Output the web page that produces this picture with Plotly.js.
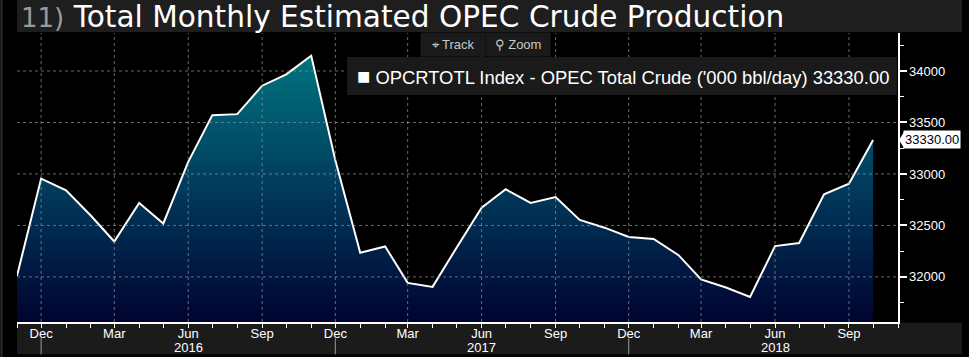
<!DOCTYPE html>
<html>
<head>
<meta charset="utf-8">
<script src="https://cdn.plot.ly/plotly-3.0.1.min.js"></script>
<style>
  html, body { margin: 0; padding: 0; background: #000; }
  #chart { width: 969px; height: 357px; }
</style>
</head>
<body>
<div id="chart"></div>
<script>
// ---- data ----
const months = [
  '2015-11-01','2015-12-01',
  '2016-01-01','2016-02-01','2016-03-01','2016-04-01','2016-05-01','2016-06-01',
  '2016-07-01','2016-08-01','2016-09-01','2016-10-01','2016-11-01','2016-12-01',
  '2017-01-01','2017-02-01','2017-03-01','2017-04-01','2017-05-01','2017-06-01',
  '2017-07-01','2017-08-01','2017-09-01','2017-10-01','2017-11-01','2017-12-01',
  '2018-01-01','2018-02-01','2018-03-01','2018-04-01','2018-05-01','2018-06-01',
  '2018-07-01','2018-08-01','2018-09-01','2018-10-01'
];
const production = [
  32010, 32955,
  32841, 32594, 32344, 32718, 32519, 33117,
  33571, 33581, 33857, 33968, 34149, 33133,
  32234, 32296, 31942, 31903, 32286, 32673,
  32851, 32718, 32776, 32553, 32478, 32388,
  32368, 32211, 31975, 31897, 31805, 32299,
  32329, 32803, 32906, 33330
];
const xTickVals = ['2015-12-01','2016-03-01','2016-06-01','2016-09-01',
                   '2016-12-01','2017-03-01','2017-06-01','2017-09-01',
                   '2017-12-01','2018-03-01','2018-06-01','2018-09-01'];
const xTickText = ['Dec','Mar','Jun','Sep','Dec','Mar','Jun','Sep','Dec','Mar','Jun','Sep'];
const yearVals = ['2016-06-01','2017-06-01','2018-06-01'];
const yearText = ['2016','2017','2018'];
const yearSeparators = ['2015-12-01','2016-12-01','2017-12-01'];
const yTickVals = [32000, 32500, 33000, 33500, 34000];
const yTickText = ['32000', '32500', '33000', '33500', '34000'];
const seriesName = "OPCRTOTL Index - OPEC Total Crude ('000 bbl/day)";
const titleNum = '11)';
const titleText = 'Total Monthly Estimated OPEC Crude Production';

// ---- layout helpers ----
const W = 969, H = 357;
const M = {l: 17, r: 71, t: 33, b: 35.3};
const PW = W - M.l - M.r, PH = H - M.t - M.b;
const px = x => (x - M.l) / PW;          // pixel -> paper x
const py = y => 1 - (y - M.t) / PH;      // pixel -> paper y
const yMin = 31562, yMax = 34369;
const last = production[production.length - 1];
const peak = Math.max(...production);

const gridLine = {color: 'rgba(140,140,140,0.75)', width: 1, dash: 'dot'};
const shapes = [];
// background bands
shapes.push({type:'rect', xref:'paper', yref:'paper', x0: px(17), x1: px(962), y0: py(32), y1: py(0),
             fillcolor:'#1e1e1e', line:{width:0}, layer:'below'});
shapes.push({type:'rect', xref:'paper', yref:'paper', x0: px(17), x1: px(962), y0: py(322.5), y1: py(354),
             fillcolor:'#1b1b1b', line:{width:0}, layer:'below'});
shapes.push({type:'line', xref:'paper', yref:'paper', x0: px(1.5), x1: px(1.5), y0: py(0), y1: py(357),
             line:{color:'#2c2c2c', width:2}, layer:'below'});
// grid lines above the fill
xTickVals.forEach(v => shapes.push({type:'line', xref:'x', yref:'paper', x0:v, x1:v, y0:0, y1:1, line:gridLine, layer:'above'}));
yTickVals.forEach(v => shapes.push({type:'line', xref:'paper', yref:'y', x0:0, x1:1, y0:v, y1:v, line:gridLine, layer:'above'}));
// year separators
yearSeparators.forEach(v => shapes.push({type:'line', xref:'x', yref:'paper', x0:v, x1:v, y0: py(338), y1: py(354),
             line:{color:'#9a9a9a', width:1}}));
// legend box
shapes.push({type:'rect', xref:'paper', yref:'paper', x0: px(347), x1: px(897), y0: py(95), y1: py(57),
             fillcolor:'#1a1a1a', line:{width:0}, layer:'above'});
// last value tag arrow
const dy = 8 / (PH / (yMax - yMin));
shapes.push({type:'path', xref:'paper', yref:'y', layer:'above', fillcolor:'#ffffff', line:{width:0},
             path: `M ${px(899)},${last} L ${px(904)},${last + dy} L ${px(904)},${last - dy} Z`});

const annotations = [];
yearVals.forEach((v, i) => annotations.push({xref:'x', yref:'paper', x:v, y: py(347.5), yanchor:'middle', text: yearText[i],
             showarrow:false, font:{family:'Liberation Sans, Arial', size:13, color:'#ffffff'}}));
annotations.push({xref:'paper', yref:'paper', x: px(355), y: py(76), xanchor:'left', yanchor:'middle',
             text: '<span style="font-size:22px">■</span> ' + seriesName + ' ' + last.toFixed(2), showarrow:false,
             font:{family:'Liberation Sans, Arial', size:18.4, color:'#ffffff'}});
annotations.push({xref:'paper', yref:'y', x: px(903), y: last, xanchor:'left', yanchor:'middle',
             text: last.toFixed(2), showarrow:false, bgcolor:'#ffffff', borderpad:1,
             font:{family:'Liberation Sans, Arial', size:13, color:'#000000'}});
annotations.push({xref:'paper', yref:'paper', x: px(420), y: py(44.5), xanchor:'left', yanchor:'middle',
             width: 62, height: 21, bgcolor:'#1a1a1a', text:'⌖ Track', showarrow:false,
             font:{family:'Liberation Sans, Arial', size:13, color:'#c8c8c8'}});
annotations.push({xref:'paper', yref:'paper', x: px(485), y: py(44.5), xanchor:'left', yanchor:'middle',
             width: 62, height: 21, bgcolor:'#1a1a1a', text:'⚲ Zoom', showarrow:false,
             font:{family:'Liberation Sans, Arial', size:13, color:'#c8c8c8'}});

const trace = {
  type:'scatter', mode:'lines', x: months, y: production, name: seriesName,
  line:{color:'#ffffff', width:2},
  fill:'tozeroy',
  fillgradient:{type:'vertical', start: yMin, stop: peak,
                colorscale:[[0,'#000330'],[0.5,'#013a5c'],[1,'#00747f']]},
  hoverinfo:'x+y'
};

const layout = {
  width: W, height: H,
  margin: M,
  paper_bgcolor:'#000000', plot_bgcolor:'#000000',
  showlegend:false,
  title:{
    text: '<span style="color:#9a9a9a;font-size:26px">' + titleNum + '</span> ' + titleText,
    font:{family:'DejaVu Sans', size:29.6, color:'#ffffff'},
    xref:'container', yref:'container', x: 21 / W, xanchor:'left', y: 1 - 17 / H, yanchor:'middle'
  },
  xaxis:{
    type:'date', range:['2015-11-01','2018-11-01'],
    tickmode:'array', tickvals: xTickVals, ticktext: xTickText,
    ticks:'outside', ticklen:4, tickcolor:'#ffffff', tickwidth:1,
    ticklabelstandoff:-5,
    minor:{tickmode:'array', tickvals: months.concat(['2018-11-01']), ticks:'outside', ticklen:4, tickcolor:'#ffffff', tickwidth:1, showgrid:false},
    showline:true, linecolor:'#ffffff', linewidth:1.5,
    showgrid:false, zeroline:false,
    tickfont:{family:'Liberation Sans, Arial', size:13, color:'#ffffff'}
  },
  yaxis:{
    side:'right', range:[yMin, yMax],
    tickmode:'array', tickvals: yTickVals, ticktext: yTickText,
    ticks:'outside', ticklen:7, tickwidth:2, tickcolor:'#ffffff',
    minor:{dtick:250, tick0:0, ticks:'outside', ticklen:4, tickcolor:'#ffffff', tickwidth:1, showgrid:false},
    showline:true, linecolor:'#ffffff', linewidth:1.5,
    showgrid:false, zeroline:false,
    tickfont:{family:'Liberation Sans, Arial', size:13, color:'#ffffff'}
  },
  shapes: shapes,
  annotations: annotations
};

Plotly.newPlot('chart', [trace], layout, {displayModeBar:false, staticPlot:true});
</script>
</body>
</html>
